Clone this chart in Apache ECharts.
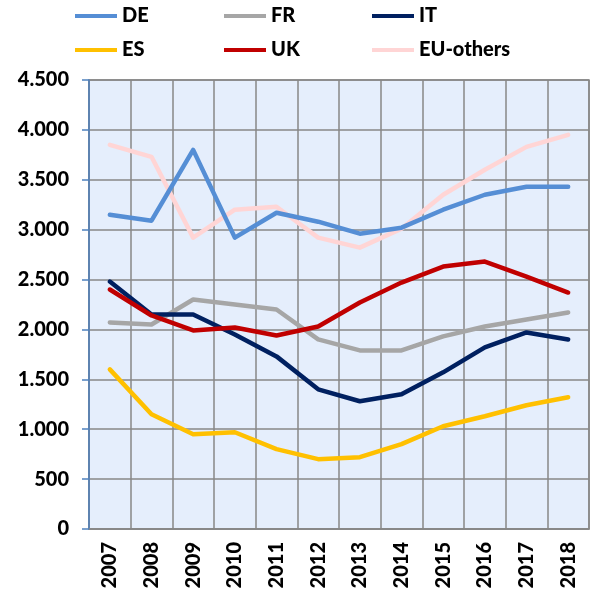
<!DOCTYPE html>
<html>
<head>
<meta charset="utf-8">
<script src="https://cdn.jsdelivr.net/npm/echarts@6/dist/echarts.min.js"></script>
<style>
  html, body { margin: 0; padding: 0; background: #fff; }
  #chart { width: 594px; height: 595px; }
</style>
</head>
<body>
<div id="chart"></div>
<script>
const years = ["2007", "2008", "2009", "2010", "2011", "2012", "2013", "2014", "2015", "2016", "2017", "2018"];
const de = [3150, 3090, 3800, 2920, 3170, 3080, 2960, 3020, 3200, 3350, 3430, 3430];
const fr = [2070, 2050, 2300, 2250, 2200, 1900, 1790, 1790, 1930, 2030, 2100, 2170];
const it = [2480, 2150, 2150, 1950, 1730, 1400, 1280, 1350, 1570, 1820, 1970, 1900];
const es = [1600, 1150, 950, 970, 800, 700, 720, 850, 1030, 1130, 1240, 1320];
const uk = [2400, 2140, 1990, 2020, 1940, 2030, 2270, 2470, 2630, 2680, 2530, 2370];
const euOthers = [3850, 3730, 2920, 3200, 3230, 2920, 2820, 3010, 3350, 3600, 3830, 3950];

const names = ["DE", "FR", "IT", "ES", "UK", "EU-others"];
const colors = ["#558ED5", "#A6A6A6", "#002060", "#FFC000", "#C00000", "#FFD5D5"];
const values = [de, fr, it, es, uk, euOthers];

const font = "Lato, 'DejaVu Sans', sans-serif";

// one legend per item so they line up in columns
const legendPos = [[75, 6], [224, 6], [372, 6], [75, 40], [224, 40], [372, 40]];
const legends = names.map((n, i) => ({
  data: [n],
  left: legendPos[i][0],
  top: legendPos[i][1],
  padding: 0,
  itemWidth: 42,
  itemHeight: 20,
  icon: "path://M0,8 L42,8 L42,12 L0,12 Z",
  textStyle: { fontFamily: font, fontWeight: 900, fontSize: 20, color: "#000" }
}));

const chart = echarts.init(document.getElementById("chart"));
chart.setOption({
  animation: false,
  color: colors,
  legend: legends,
  grid: {
    left: 89, right: 5, top: 80, bottom: 66,
    show: true,
    backgroundColor: "#E5EEFC",
    borderColor: "#878787",
    borderWidth: 1.5
  },
  xAxis: {
    type: "category",
    data: years,
    boundaryGap: true,
    axisLine: { lineStyle: { color: "#878787", width: 1.5 } },
    axisTick: { length: 7, lineStyle: { color: "#878787", width: 1.5 } },
    splitLine: { show: true, lineStyle: { color: "#878787", width: 1.5 } },
    axisLabel: {
      rotate: 90,
      margin: 13,
      fontFamily: font,
      fontWeight: 900,
      fontSize: 20,
      color: "#000"
    }
  },
  yAxis: {
    type: "value",
    min: 0,
    max: 4500,
    interval: 500,
    axisLine: { show: true, lineStyle: { color: "#4F81BD", width: 1.5 } },
    axisTick: { show: true, length: 7, lineStyle: { color: "#4F81BD", width: 1.5 } },
    splitLine: { lineStyle: { color: "#878787", width: 1.5 } },
    axisLabel: {
      margin: 20,
      fontFamily: font,
      fontWeight: 900,
      fontSize: 20,
      color: "#000",
      formatter: v => v >= 1000 ? Math.floor(v / 1000) + "." + String(v % 1000).padStart(3, "0") : String(v)
    }
  },
  series: names.map((n, i) => ({
    name: n,
    type: "line",
    data: values[i],
    symbol: "none",
    lineStyle: { width: 4.5, color: colors[i], cap: "round", join: "round" },
    z: i === 5 ? 1 : 2 + i
  }))
});
</script>
</body>
</html>
